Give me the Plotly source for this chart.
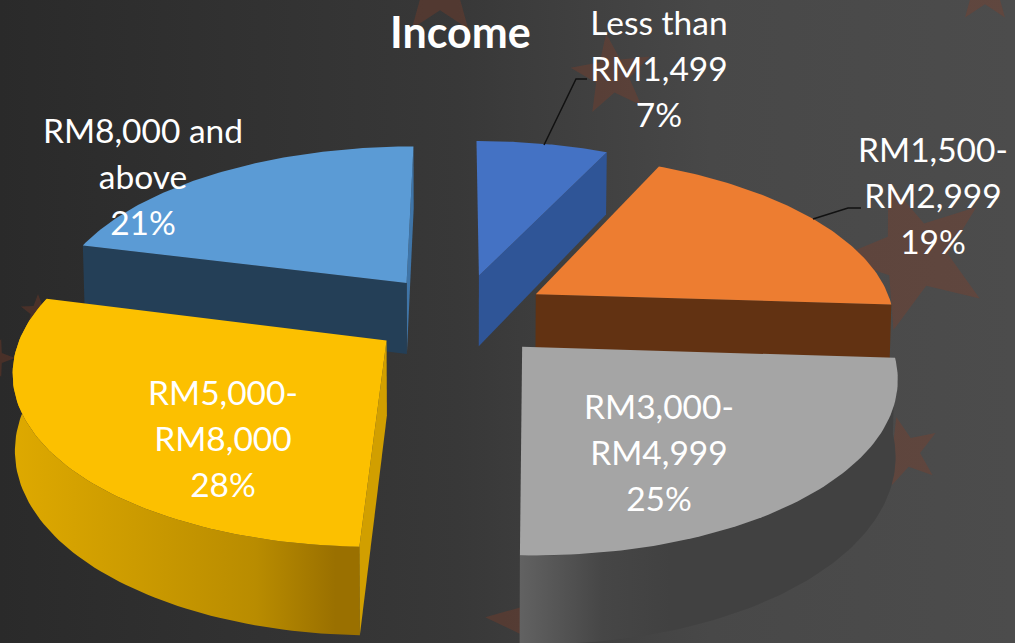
import numpy as np
import plotly.graph_objects as go

# ---- data ----
categories = ["Less than RM1,499", "RM1,500-RM2,999", "RM3,000-RM4,999", "RM5,000-RM8,000", "RM8,000 and above"]
slice_shares = [7.0, 19.0, 24.5, 28.5, 21.0]
shown_percent = [7, 19, 25, 28, 21]            # as printed on the labels
label_lines = [["Less than", "RM1,499"], ["RM1,500-", "RM2,999"], ["RM3,000-", "RM4,999"],
               ["RM5,000-", "RM8,000"], ["RM8,000 and", "above"]]

# ---- style / layout constants ----
W, H = 1015, 643
CX, CY = 460, 315      # pie centre on the picture axes
RX, RY = 359, 166.4    # pie radii
PERSP = 0.152          # perspective strength
EXPLODE = 0.25         # slice pull-out
DEPTH = 73             # extrusion
TOP = ["#4472C4", "#ED7D31", "#A5A5A5", "#FCC000", "#5B9BD5"]
START_FACE = [None, None, None, "#D19F00", "#243F57"]
END_FACE = ["#2F5597", "#623212", None, None, "#3F75A8"]
WALL = [None, None,
        [[0, "#626262"], [0.22, "#464646"], [0.4, "#414141"], [1, "#414141"]],
        [[0, "#DEA900"], [0.35, "#CC9B00"], [0.7, "#B98C00"], [0.93, "#9A7000"], [1, "#9A7000"]],
        None]
LABEL_POS = [(659, 27), (933, 154), (659, 411), (223, 397), (143, 135)]
LINE_GAP = 46
LEADERS = [([587, 576, 544], [79, 79, 145]), ([861, 848, 813], [208, 208, 219])]
STARS = [(612, 75, 42, -8), (915, 255, 78, -20), (905, 452, 36, -14), (440, -10, 48, 0),
         (985, -10, 34, 0), (-5, 358, 20, 90), (540, 622, 55, -85), (38, 312, 18, 0)]
STAR_COLOR = "rgba(135,62,38,0.34)"


def project(x, y, drop=0.0):
    w = 1 + PERSP * y
    sx = CX + RX * x / w
    sy = CY - RY * y / w
    if drop:
        d = DEPTH / w
        return CX + (sx - CX) * 0.995, sy + d
    return sx, sy


def poly(xs, ys, color=None, gradient=None):
    kw = dict(fillgradient=dict(type="horizontal", colorscale=gradient)) if gradient else dict(fillcolor=color)
    return go.Scatter(x=list(xs) + [xs[0]], y=list(ys) + [ys[0]], mode="lines", fill="toself",
                      line=dict(width=0), hoverinfo="skip", showlegend=False, **kw)


fig = go.Figure()

# background
fig.add_trace(poly([0, W, W, 0], [0, 0, H, H],
                   gradient=[[0, "#2A2A2A"], [0.45, "#383838"], [0.7, "#484848"], [1, "#4C4C4C"]]))
for cx, cy, r, rot in STARS:
    a = np.radians(rot + np.arange(10) * 36)
    rr = np.where(np.arange(10) % 2 == 0, r, r * 0.42)
    fig.add_trace(poly(cx + rr * np.sin(a), cy - rr * np.cos(a), STAR_COLOR))

# slices, derived from the shares
total = sum(slice_shares)
edges = np.concatenate([[0], np.cumsum(slice_shares)]) / total * 2 * np.pi
slices = []
for i in range(len(slice_shares)):
    t0, t1 = edges[i], edges[i + 1]
    mid = (t0 + t1) / 2
    ox, oy = EXPLODE * np.sin(mid), EXPLODE * np.cos(mid)
    th = np.linspace(t0, t1, 80)
    wx, wy = ox + np.sin(th), oy + np.cos(th)
    slices.append((i, ox, oy, wx, wy))


def draw(i, ox, oy, wx, wy):
    ax, ay = project(ox, oy)
    bx, by = project(ox, oy, 1)
    tx, ty = project(wx, wy)
    lx, ly = project(wx, wy, 1)
    if WALL[i]:
        fig.add_trace(poly(np.concatenate([tx, lx[::-1]]), np.concatenate([ty, ly[::-1]]), gradient=WALL[i]))
    if END_FACE[i]:
        fig.add_trace(poly([ax, tx[-1], lx[-1], bx], [ay, ty[-1], ly[-1], by], END_FACE[i]))
    if START_FACE[i]:
        fig.add_trace(poly([ax, tx[0], lx[0], bx], [ay, ty[0], ly[0], by], START_FACE[i]))
    fig.add_trace(poly(np.concatenate([[ax], tx]), np.concatenate([[ay], ty]), TOP[i]))


for k in [0, 4, 1, 3, 2]:   # back to front
    draw(*slices[k])

# leader lines
for lx, ly in LEADERS:
    fig.add_trace(go.Scatter(x=lx, y=ly, mode="lines", line=dict(color="#111111", width=1.5),
                             hoverinfo="skip", showlegend=False))

# labels
tx, ty, tt = [], [], []
for (px, py), lines, s in zip(LABEL_POS, label_lines, shown_percent):
    for j, t in enumerate(lines + [f"{s}%"]):
        tx.append(px)
        ty.append(py + j * LINE_GAP)
        tt.append(t)
fig.add_trace(go.Scatter(x=tx, y=ty, text=tt, mode="text", textposition="middle center",
                         textfont=dict(family="Lato", size=33.5, color="#FFFFFF"),
                         hoverinfo="skip", showlegend=False))

fig.update_layout(
    width=W, height=H, margin=dict(l=0, r=0, t=0, b=0),
    paper_bgcolor="#3A3A3A", plot_bgcolor="#3A3A3A",
    xaxis=dict(range=[0, W], visible=False, fixedrange=True),
    yaxis=dict(range=[H, 0], visible=False, fixedrange=True),
    annotations=[dict(text="<b>Income</b>", x=460, y=31, xref="x", yref="y", showarrow=False,
                      font=dict(family="Lato", size=43, color="#FFFFFF"))],
)
fig.write_html("out.html", config=dict(displayModeBar=False),
               post_script="document.body.style.margin='0';document.body.style.background='#3A3A3A';")
